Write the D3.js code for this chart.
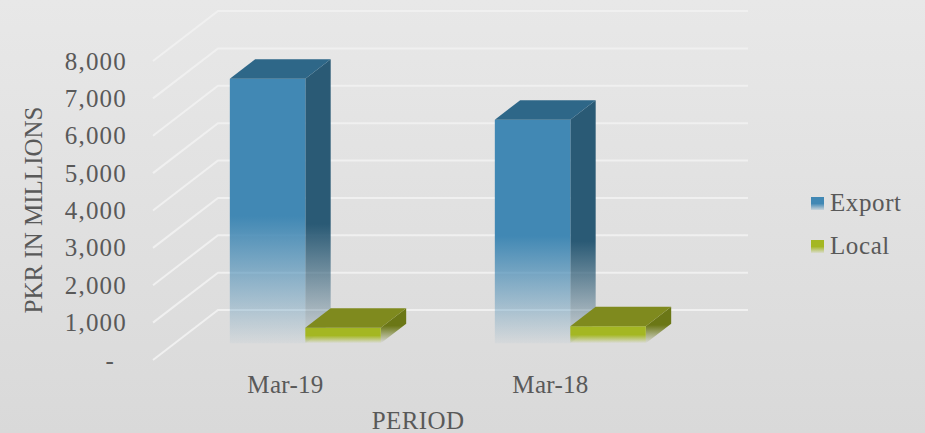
<!DOCTYPE html>
<html><head><meta charset="utf-8">
<script src="https://cdn.jsdelivr.net/npm/d3@7"></script>
<style>html,body{margin:0;padding:0;background:#ddd;overflow:hidden}svg{display:block}</style>
</head><body><div id="chart"></div>
<script>
const categories = ["Mar-19", "Mar-18"];
const seriesNames = ["Export", "Local"];
const exportValues = [7080, 5980];
const localValues = [415, 455];
const tickValues = [0, 1000, 2000, 3000, 4000, 5000, 6000, 7000, 8000];
const axisTitleY = "PKR IN MILLIONS";
const axisTitleX = "PERIOD";

const W = 925, H = 433, FONT = "'Liberation Serif', serif", TXT = "#595959", FS = 25;
const svg = d3.select("#chart").append("svg").attr("width", W).attr("height", H);
const defs = svg.append("defs");

function grad(id, color, fadeStart, endOp) {
  const g = defs.append("linearGradient").attr("id", id).attr("x1", 0).attr("y1", 0).attr("x2", 0).attr("y2", 1);
  g.append("stop").attr("offset", 0).attr("stop-color", color);
  g.append("stop").attr("offset", fadeStart).attr("stop-color", color);
  g.append("stop").attr("offset", 1).attr("stop-color", color).attr("stop-opacity", endOp);
}
const bg = defs.append("linearGradient").attr("id", "bg").attr("x1", 0).attr("y1", 0).attr("x2", 0).attr("y2", 1);
bg.append("stop").attr("offset", 0).attr("stop-color", "#e8e8e8");
bg.append("stop").attr("offset", 1).attr("stop-color", "#d9d9d9");
svg.append("rect").attr("width", W).attr("height", H).attr("fill", "url(#bg)");

const palette = {
  Export: { front: "#4188b4", top: "#2e6788", side: "#2a5a75", fade: 0.52, sideFade: 0.58, end: 0.04 },
  Local:  { front: "#a4b722", top: "#7f8a1e", side: "#6b7716", fade: 0.5, sideFade: 0.5, end: 0.0 }
};
seriesNames.forEach(s => {
  grad("f" + s, palette[s].front, palette[s].fade, palette[s].end);
  grad("s" + s, palette[s].side, palette[s].sideFade, palette[s].end);
});
grad("lgExport", palette.Export.front, 0.5, 0.15);
grad("lgLocal", palette.Local.front, 0.5, 0.1);

// Oblique projection of the plot box
const DX = 65, DY = 50;
const y = d3.scaleLinear().domain([0, 8000]).range([360, 61]);
const x0 = d3.scaleBand().domain(categories).range([153, 683]);
const x1 = d3.scaleBand().domain(seriesNames).range([0, 151]);
const proj = (px, v, t) => [px + t * DX, y(v) - t * DY];
const T0 = 0.305, T1 = 0.695, LIFT = 1.5;

// Gridlines (side wall + back wall)
const grid = svg.append("g");
grid.selectAll("path").data(tickValues).join("path")
  .attr("d", v => d3.line()([proj(153, v, 0), proj(153, v, 1), proj(683, v, 1)]))
  .attr("fill", "none").attr("stroke", "#f0f0f0").attr("stroke-width", 2);

// Bars
const rows = categories.flatMap((c, i) => [
  { c, s: "Export", v: exportValues[i] },
  { c, s: "Local", v: localValues[i] }
]);
const line = d3.line();
const bars = svg.append("g").attr("transform", `translate(0,${-LIFT})`).selectAll("g").data(rows).join("g");
bars.each(function (d) {
  const g = d3.select(this), p = palette[d.s];
  const xa = x0(d.c) + x0.bandwidth() / 2 - x1.bandwidth() + x1(d.s);
  const xb = xa + x1.bandwidth();
  const fa = proj(xa, d.v, T0), fb = proj(xb, d.v, T0), f0b = proj(xb, 0, T0), f0a = proj(xa, 0, T0);
  const ba = proj(xa, d.v, T1), bb = proj(xb, d.v, T1), b0b = proj(xb, 0, T1);
  g.append("path").attr("d", line([fb, bb, b0b, f0b]) + "Z").attr("fill", `url(#s${d.s})`);
  g.append("path").attr("d", line([fa, fb, f0b, f0a]) + "Z").attr("fill", `url(#f${d.s})`);
  g.append("path").attr("d", line([fa, ba, bb, fb]) + "Z").attr("fill", p.top);
});

// Axes
function styleAxis(g) {
  g.select(".domain").remove();
  g.selectAll(".tick line").remove();
  g.selectAll("text").attr("font-family", FONT).attr("font-size", FS).attr("fill", TXT);
}
svg.append("g").attr("transform", "translate(127,0)")
  .call(d3.axisLeft(y).tickValues(tickValues).tickSize(0).tickPadding(0)
    .tickFormat(v => v === 0 ? "-" : d3.format(",")(v)))
  .call(styleAxis)
  .selectAll("text").attr("letter-spacing", 1.2).attr("dy", "0.32em")
  .attr("dx", v => v === 0 ? -12 : 0);
svg.append("g").attr("transform", "translate(0,375)")
  .call(d3.axisBottom(x0).tickSize(0).tickPadding(0))
  .call(styleAxis)
  .selectAll("text").attr("letter-spacing", 0.3).attr("dy", "0.71em");

svg.append("text").attr("x", 418).attr("y", 429).attr("text-anchor", "middle")
  .attr("font-family", FONT).attr("font-size", FS).attr("fill", TXT).attr("letter-spacing", 0.4).text(axisTitleX);
svg.append("text").attr("transform", "translate(42,210) rotate(-90)").attr("text-anchor", "middle")
  .attr("font-family", FONT).attr("font-size", FS).attr("fill", TXT).text(axisTitleY);

// Legend
const legendY = d3.scalePoint().domain(seriesNames).range([197, 240]);
const lg = svg.append("g").selectAll("g").data(seriesNames).join("g")
  .attr("transform", s => `translate(811,${legendY(s)})`);
lg.append("rect").attr("width", 13).attr("height", 13).attr("fill", s => `url(#lg${s})`);
lg.append("text").attr("x", 19).attr("y", 14).attr("font-family", FONT).attr("font-size", FS)
  .attr("fill", TXT).attr("letter-spacing", 0.6).text(s => s);
</script></body></html>
